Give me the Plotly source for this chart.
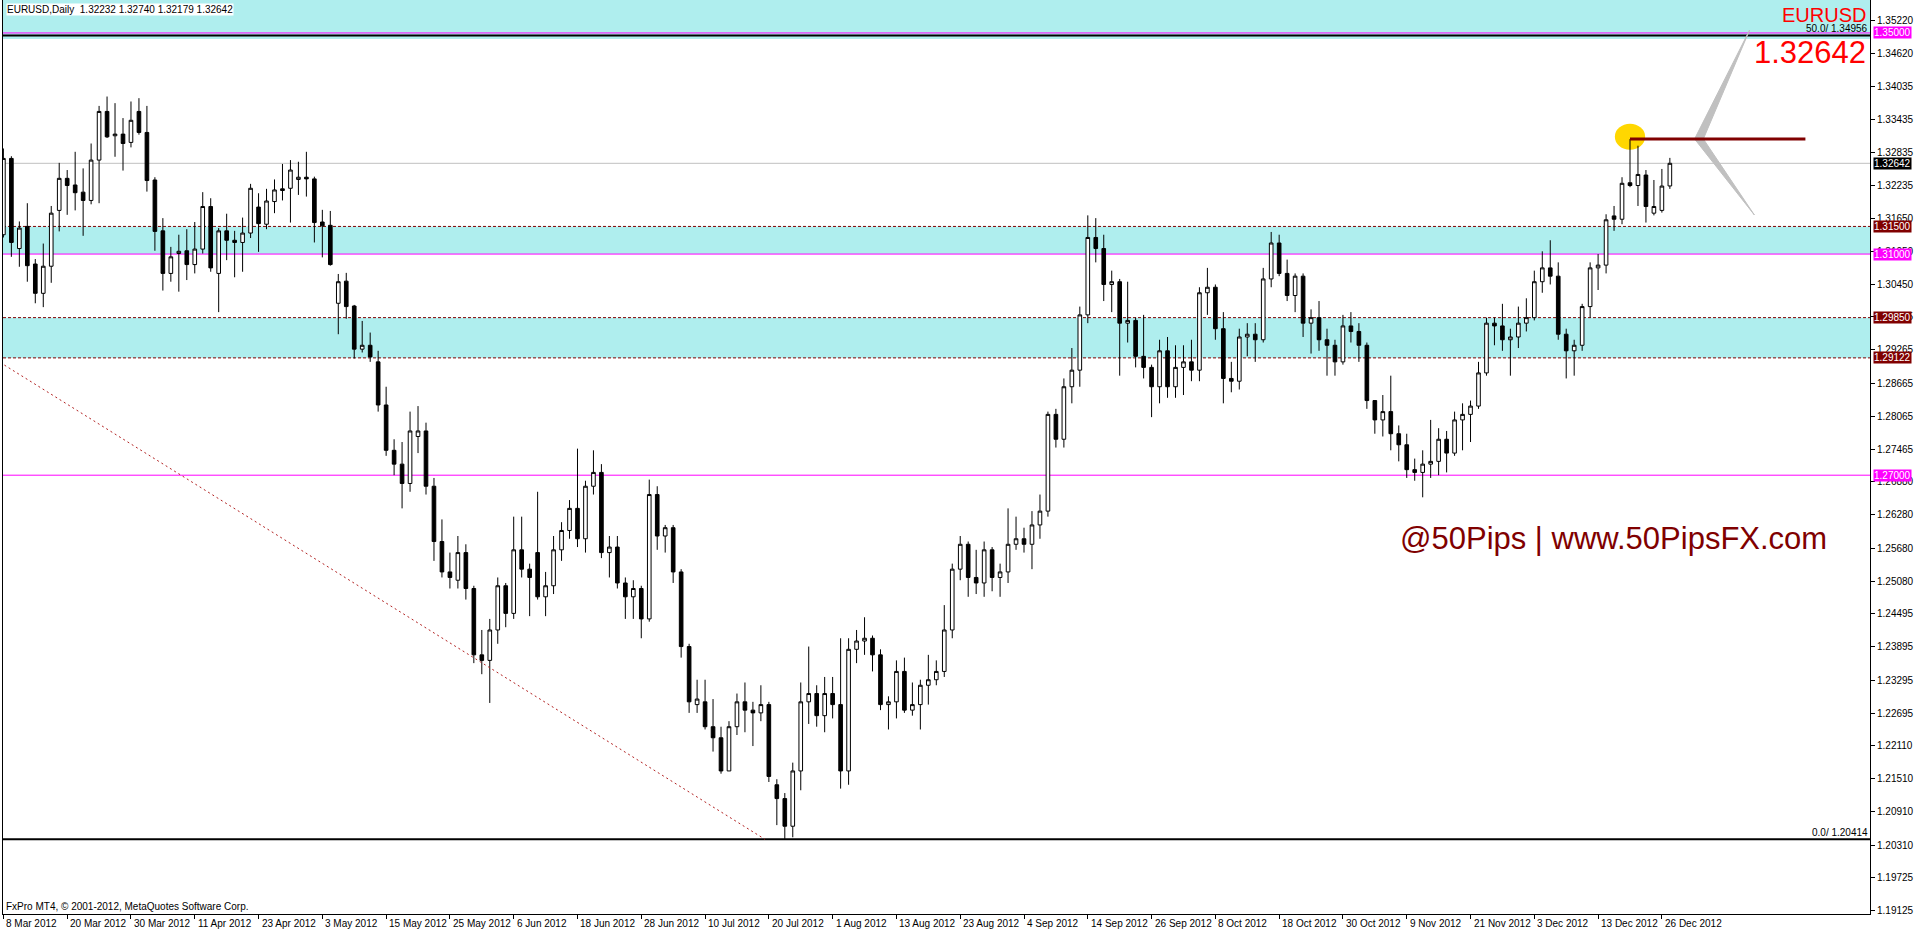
import plotly.graph_objects as go

# ---------------- data ----------------
# daily candles, 8 Mar 2012 .. 27 Dec 2012 (index = bar number)
opens = [
    1.3135, 1.3273, 1.3110, 1.3150, 1.3082, 1.3029, 1.3078, 1.3179, 1.3237, 1.3225,
    1.3212, 1.3197, 1.3270, 1.3358, 1.3314, 1.3317, 1.3302, 1.3358, 1.3320, 1.3234,
    1.3142, 1.3065, 1.3101, 1.3106, 1.3081, 1.3109, 1.3186, 1.3065, 1.3142, 1.3125,
    1.3121, 1.3138, 1.3185, 1.3154, 1.3195, 1.3218, 1.3219, 1.3235, 1.3239, 1.3236,
    1.3158, 1.3152, 1.3011, 1.3051, 1.3006, 1.2928, 1.2935, 1.2905, 1.2827, 1.2745,
    1.2720, 1.2685, 1.2770, 1.2780, 1.2680, 1.2580, 1.2525, 1.2510, 1.2560, 1.2495,
    1.2375, 1.2365, 1.2420, 1.2500, 1.2450, 1.2565, 1.2530, 1.2560, 1.2480, 1.2500,
    1.2565, 1.2600, 1.2640, 1.2585, 1.2680, 1.2705, 1.2560, 1.2570, 1.2505, 1.2480,
    1.2495, 1.2440, 1.2665, 1.2590, 1.2605, 1.2525, 1.2390, 1.2285, 1.2290, 1.2245,
    1.2225, 1.2165, 1.2245, 1.2290, 1.2275, 1.2270, 1.2285, 1.2140, 1.2115, 1.2065,
    1.2165, 1.2290, 1.2305, 1.2265, 1.2305, 1.2285, 1.2165, 1.2385, 1.2400, 1.2405,
    1.2375, 1.2285, 1.2290, 1.2345, 1.2275, 1.2285, 1.2320, 1.2330, 1.2345, 1.2420,
    1.2530, 1.2575, 1.2515, 1.2505, 1.2565, 1.2515, 1.2525, 1.2575, 1.2585, 1.2575,
    1.2610, 1.2635, 1.2810, 1.2765, 1.2860, 1.2890, 1.2990, 1.3130, 1.3110, 1.3045,
    1.3050, 1.2975, 1.2980, 1.2915, 1.2895, 1.2860, 1.2925, 1.2860, 1.2895, 1.2905,
    1.2890, 1.3030, 1.3040, 1.2965, 1.2875, 1.2870, 1.2950, 1.2955, 1.2945, 1.3055,
    1.3120, 1.3065, 1.3025, 1.3060, 1.2975, 1.2985, 1.2945, 1.2935, 1.2905, 1.2970,
    1.2960, 1.2935, 1.2835, 1.2800, 1.2815, 1.2775, 1.2755, 1.2710, 1.2705, 1.2720,
    1.2725, 1.2765, 1.2740, 1.2800, 1.2810, 1.2825, 1.2885, 1.2975, 1.2970, 1.2945,
    1.2950, 1.2975, 1.2985, 1.3050, 1.3075, 1.3060, 1.2955, 1.2925, 1.2935, 1.3005,
    1.3075, 1.3080, 1.3169, 1.3163, 1.3229, 1.3224, 1.3243, 1.3174, 1.3179, 1.32232,
]
highs = [
    1.3291, 1.3277, 1.3159, 1.3192, 1.3091, 1.3119, 1.3187, 1.3265, 1.3252, 1.3285,
    1.3255, 1.3300, 1.3368, 1.3385, 1.3373, 1.3346, 1.3376, 1.3382, 1.3368, 1.3239,
    1.3165, 1.3113, 1.3135, 1.3145, 1.3158, 1.3212, 1.3201, 1.3147, 1.3173, 1.3142,
    1.3166, 1.3227, 1.3210, 1.3218, 1.3235, 1.3263, 1.3270, 1.3267, 1.3285, 1.3240,
    1.3180, 1.3178, 1.3064, 1.3066, 1.3008, 1.2979, 1.2958, 1.2925, 1.2860, 1.2765,
    1.2760, 1.2815, 1.2825, 1.2795, 1.2695, 1.2620, 1.2560, 1.2590, 1.2575, 1.2500,
    1.2420, 1.2440, 1.2515, 1.2505, 1.2625, 1.2625, 1.2540, 1.2670, 1.2525, 1.2590,
    1.2615, 1.2655, 1.2748, 1.2690, 1.2745, 1.2720, 1.2590, 1.2590, 1.2515, 1.2510,
    1.2500, 1.2692, 1.2680, 1.2610, 1.2610, 1.2530, 1.2395, 1.2330, 1.2330, 1.2295,
    1.2245, 1.2255, 1.2305, 1.2325, 1.2290, 1.2320, 1.2290, 1.2150, 1.2125, 1.2180,
    1.2325, 1.2390, 1.2320, 1.2335, 1.2335, 1.2405, 1.2405, 1.2420, 1.2443, 1.2410,
    1.2385, 1.2300, 1.2365, 1.2370, 1.2325, 1.2330, 1.2375, 1.2365, 1.2465, 1.2540,
    1.2590, 1.2580, 1.2565, 1.2580, 1.2570, 1.2540, 1.2640, 1.2625, 1.2605, 1.2635,
    1.2665, 1.2815, 1.2820, 1.2875, 1.2930, 1.3005, 1.3170, 1.3165, 1.3135, 1.3070,
    1.3055, 1.3050, 1.2985, 1.2990, 1.2900, 1.2945, 1.2950, 1.2935, 1.2935, 1.2945,
    1.3040, 1.3075, 1.3045, 1.2995, 1.2905, 1.2965, 1.2975, 1.2975, 1.3075, 1.3140,
    1.3135, 1.3090, 1.3065, 1.3065, 1.3000, 1.3015, 1.2965, 1.2945, 1.2990, 1.2995,
    1.2975, 1.2940, 1.2835, 1.2845, 1.2880, 1.2790, 1.2775, 1.2730, 1.2745, 1.2800,
    1.2785, 1.2780, 1.2815, 1.2830, 1.2835, 1.2905, 1.2985, 1.2985, 1.3010, 1.2965,
    1.3005, 1.3020, 1.3070, 1.3105, 1.3125, 1.3085, 1.2965, 1.2945, 1.3010, 1.3085,
    1.3100, 1.3172, 1.3187, 1.3239, 1.3308, 1.3296, 1.3252, 1.3234, 1.3254, 1.32740,
]
lows = [
    1.3130, 1.3095, 1.3077, 1.3050, 1.3011, 1.3004, 1.3048, 1.3141, 1.3171, 1.3179,
    1.3133, 1.3190, 1.3192, 1.3310, 1.3276, 1.3251, 1.3293, 1.3316, 1.3213, 1.3106,
    1.3034, 1.3050, 1.3032, 1.3053, 1.3065, 1.3101, 1.3068, 1.2995, 1.3089, 1.3058,
    1.3068, 1.3129, 1.3104, 1.3145, 1.3174, 1.3197, 1.3157, 1.3207, 1.3204, 1.3121,
    1.3094, 1.3079, 1.2955, 1.2983, 1.2911, 1.2922, 1.2905, 1.2815, 1.2735, 1.2700,
    1.2640, 1.2670, 1.2740, 1.2665, 1.2545, 1.2515, 1.2495, 1.2495, 1.2475, 1.2360,
    1.2340, 1.2288, 1.2395, 1.2425, 1.2440, 1.2515, 1.2445, 1.2475, 1.2445, 1.2485,
    1.2545, 1.2585, 1.2570, 1.2560, 1.2665, 1.2550, 1.2515, 1.2495, 1.2440, 1.2440,
    1.2405, 1.2435, 1.2565, 1.2560, 1.2505, 1.2370, 1.2270, 1.2270, 1.2240, 1.2200,
    1.2160, 1.2165, 1.2230, 1.2235, 1.2210, 1.2255, 1.2145, 1.2067, 1.2042, 1.2045,
    1.2130, 1.2250, 1.2245, 1.2235, 1.2260, 1.2133, 1.2140, 1.2360, 1.2375, 1.2345,
    1.2275, 1.2240, 1.2260, 1.2270, 1.2265, 1.2240, 1.2285, 1.2320, 1.2335, 1.2405,
    1.2510, 1.2480, 1.2485, 1.2480, 1.2490, 1.2480, 1.2505, 1.2565, 1.2560, 1.2530,
    1.2585, 1.2625, 1.2750, 1.2750, 1.2830, 1.2860, 1.2975, 1.3085, 1.3015, 1.2995,
    1.2880, 1.2940, 1.2895, 1.2875, 1.2805, 1.2830, 1.2840, 1.2840, 1.2845, 1.2870,
    1.2870, 1.2990, 1.2945, 1.2830, 1.2850, 1.2855, 1.2915, 1.2905, 1.2940, 1.3040,
    1.3060, 1.3015, 1.2995, 1.2950, 1.2920, 1.2925, 1.2880, 1.2880, 1.2900, 1.2940,
    1.2905, 1.2820, 1.2775, 1.2770, 1.2745, 1.2725, 1.2695, 1.2690, 1.2660, 1.2695,
    1.2700, 1.2705, 1.2735, 1.2745, 1.2760, 1.2820, 1.2880, 1.2935, 1.2925, 1.2880,
    1.2930, 1.2960, 1.2980, 1.3030, 1.3045, 1.2945, 1.2875, 1.2880, 1.2925, 1.2985,
    1.3035, 1.3065, 1.3142, 1.3154, 1.3221, 1.3187, 1.3157, 1.3170, 1.3175, 1.32179,
]
closes = [
    1.3273, 1.3121, 1.3147, 1.3079, 1.3029, 1.3078, 1.3174, 1.3237, 1.3224, 1.3211,
    1.3197, 1.3270, 1.3358, 1.3312, 1.3317, 1.3300, 1.3342, 1.3320, 1.3233, 1.3141,
    1.3065, 1.3095, 1.3105, 1.3081, 1.3109, 1.3186, 1.3075, 1.3142, 1.3125, 1.3121,
    1.3138, 1.3219, 1.3155, 1.3196, 1.3216, 1.3215, 1.3252, 1.3239, 1.3236, 1.3157,
    1.3151, 1.3081, 1.3050, 1.3005, 1.2928, 1.2935, 1.2914, 1.2827, 1.2745, 1.2720,
    1.2685, 1.2780, 1.2780, 1.2680, 1.2580, 1.2525, 1.2515, 1.2560, 1.2495, 1.2375,
    1.2365, 1.2420, 1.2500, 1.2450, 1.2565, 1.2530, 1.2515, 1.2480, 1.2500, 1.2565,
    1.2600, 1.2640, 1.2585, 1.2680, 1.2705, 1.2560, 1.2570, 1.2505, 1.2480, 1.2495,
    1.2440, 1.2665, 1.2590, 1.2605, 1.2525, 1.2390, 1.2290, 1.2295, 1.2245, 1.2225,
    1.2165, 1.2245, 1.2290, 1.2275, 1.2270, 1.2285, 1.2155, 1.2115, 1.2065, 1.2165,
    1.2290, 1.2305, 1.2265, 1.2305, 1.2285, 1.2165, 1.2385, 1.2400, 1.2405, 1.2375,
    1.2285, 1.2290, 1.2345, 1.2275, 1.2285, 1.2320, 1.2330, 1.2345, 1.2420, 1.2530,
    1.2575, 1.2515, 1.2505, 1.2565, 1.2515, 1.2525, 1.2575, 1.2585, 1.2575, 1.2610,
    1.2635, 1.2810, 1.2765, 1.2860, 1.2890, 1.2990, 1.3130, 1.3110, 1.3045, 1.3050,
    1.2975, 1.2980, 1.2915, 1.2895, 1.2860, 1.2925, 1.2860, 1.2895, 1.2905, 1.2890,
    1.3030, 1.3040, 1.2965, 1.2875, 1.2870, 1.2950, 1.2955, 1.2945, 1.3055, 1.3120,
    1.3065, 1.3025, 1.3060, 1.2975, 1.2985, 1.2945, 1.2935, 1.2905, 1.2970, 1.2960,
    1.2935, 1.2835, 1.2800, 1.2815, 1.2775, 1.2755, 1.2710, 1.2705, 1.2720, 1.2725,
    1.2765, 1.2740, 1.2800, 1.2810, 1.2825, 1.2885, 1.2975, 1.2970, 1.2945, 1.2950,
    1.2975, 1.2985, 1.3050, 1.3075, 1.3060, 1.2955, 1.2925, 1.2935, 1.3005, 1.3075,
    1.3080, 1.3162, 1.3163, 1.3228, 1.3224, 1.3244, 1.3186, 1.3186, 1.3223, 1.32642,
]

date_labels = [
    "8 Mar 2012", "20 Mar 2012", "30 Mar 2012", "11 Apr 2012", "23 Apr 2012",
    "3 May 2012", "15 May 2012", "25 May 2012", "6 Jun 2012", "18 Jun 2012",
    "28 Jun 2012", "10 Jul 2012", "20 Jul 2012", "1 Aug 2012", "13 Aug 2012",
    "23 Aug 2012", "4 Sep 2012", "14 Sep 2012", "26 Sep 2012", "8 Oct 2012",
    "18 Oct 2012", "30 Oct 2012", "9 Nov 2012", "21 Nov 2012", "3 Dec 2012",
    "13 Dec 2012", "26 Dec 2012",
]
label_step = 8

price_ticks = [
    1.35220, 1.34620, 1.34035, 1.33435, 1.32835, 1.32235, 1.31650, 1.31050,
    1.30450, 1.29865, 1.29265, 1.28665, 1.28065, 1.27465, 1.26880, 1.26280,
    1.25680, 1.25080, 1.24495, 1.23895, 1.23295, 1.22695, 1.22110, 1.21510,
    1.20910, 1.20310, 1.19725, 1.19125,
]

zones = [(1.34891, 1.36000), (1.31000, 1.31500), (1.29122, 1.29850)]
magenta_levels = [1.35000, 1.31000, 1.27000]
dashed_levels = [1.31500, 1.29850, 1.29122]
fib_levels = [(1.34956, "50.0/ 1.34956"), (1.20414, "0.0/ 1.20414")]
bid = 1.32642
high_mark = (204, 1.33082, 226)          # bar, price, end bar of the maroon line
fib_trend = ([-0.4, 95.5], [1.29039, 1.20414])
arrow_vertex = (212.1, 1.33082)
arrow_tips = [(219.0, 1.35053), (219.6, 1.31707)]

tag_levels = [
    (1.35000, "#FF00FF"), (1.32642, "#000000"), (1.31500, "#800000"),
    (1.31000, "#FF00FF"), (1.29850, "#800000"), (1.29122, "#800000"),
    (1.27000, "#FF00FF"),
]

ZONE = "#AFEEEE"
FONT = "Liberation Sans, Arial, sans-serif"

idx = list(range(len(opens)))

fig = go.Figure()
fig.add_trace(go.Candlestick(
    x=idx, open=opens, high=highs, low=lows, close=closes,
    increasing=dict(line=dict(color="black", width=1), fillcolor="white"),
    decreasing=dict(line=dict(color="black", width=1), fillcolor="black"),
    whiskerwidth=0, hoverinfo="skip", showlegend=False,
))

# fibo diagonal
fig.add_trace(go.Scatter(
    x=fib_trend[0], y=fib_trend[1], mode="lines",
    line=dict(color="#B22222", width=1, dash="2px,3px"),
    hoverinfo="skip", showlegend=False,
))

# grey "<" marker
vx, vy = arrow_vertex
for tx, ty in arrow_tips:
    fig.add_trace(go.Scatter(
        x=[vx, vx + 1.1, tx, vx], y=[vy, vy, ty, vy], mode="lines",
        fill="toself", fillcolor="#C0C0C0", line=dict(color="#C0C0C0", width=1),
        hoverinfo="skip", showlegend=False,
    ))

shapes = []
for lo, hi in zones:
    shapes.append(dict(type="rect", xref="paper", x0=0, x1=1, yref="y", y0=lo, y1=hi,
                       fillcolor=ZONE, line_width=0, layer="below"))
for lv in magenta_levels:
    shapes.append(dict(type="line", xref="paper", x0=0, x1=1, yref="y", y0=lv, y1=lv,
                       line=dict(color="#FF00FF", width=1), layer="below"))
for lv in dashed_levels:
    shapes.append(dict(type="line", xref="paper", x0=0, x1=1, yref="y", y0=lv, y1=lv,
                       line=dict(color="#800000", width=1, dash="3px,2px"), layer="below"))
for lv, _ in fib_levels:
    shapes.append(dict(type="line", xref="paper", x0=0, x1=1, yref="y", y0=lv, y1=lv,
                       line=dict(color="black", width=2), layer="below"))
shapes.append(dict(type="line", xref="paper", x0=0, x1=1, yref="y", y0=bid, y1=bid,
                   line=dict(color="#C0C0C0", width=1), layer="below"))
hb, hp, he = high_mark
shapes.append(dict(type="circle", xref="x", yref="y", x0=hb - 1.9, x1=hb + 1.9,
                   y0=hp + 0.0004 - 0.00235, y1=hp + 0.0004 + 0.00235,
                   fillcolor="#FFD700", line_width=0, layer="below"))
shapes.append(dict(type="line", xref="x", yref="y", x0=hb, x1=he, y0=hp, y1=hp,
                   line=dict(color="#800000", width=3)))

ann = []
ann.append(dict(text="EURUSD,Daily&nbsp; 1.32232 1.32740 1.32179 1.32642",
                xref="paper", yref="paper", x=0, y=1, xanchor="left", yanchor="top",
                xshift=3, yshift=-3, showarrow=False, bgcolor="white", borderpad=0,
                font=dict(size=10, color="black")))
ann.append(dict(text="EURUSD", xref="paper", yref="paper", x=1, y=(914 - 15) / 914,
                xanchor="right", yanchor="middle", xshift=-2, showarrow=False,
                font=dict(size=20, color="#FF0000", family="Liberation Sans, Arial")))
ann.append(dict(text=f"{bid:.5f}", xref="paper", yref="paper", x=1, y=(914 - 52) / 914,
                xanchor="right", yanchor="middle", xshift=-2, showarrow=False,
                font=dict(size=31, color="#FF0000", family="Liberation Sans, Arial")))
ann.append(dict(text="@50Pips | www.50PipsFX.com", xref="paper", yref="paper",
                x=(1835 - 3) / 1873, y=(914 - 538) / 914, xanchor="right", yanchor="middle",
                showarrow=False, font=dict(size=31, color="#800000", family="Liberation Sans, Arial")))
ann.append(dict(text="FxPro MT4, © 2001-2012, MetaQuotes Software Corp.",
                xref="paper", yref="paper", x=0, y=0, xanchor="left", yanchor="bottom",
                xshift=1, yshift=0, showarrow=False, font=dict(size=10, color="black")))
for lv, txt in fib_levels:
    ann.append(dict(text=txt, xref="paper", yref="y", x=1, y=lv, xanchor="right",
                    yanchor="bottom", xshift=-1, showarrow=False, borderpad=0,
                    font=dict(size=10, color="black")))
for lv, col in tag_levels:
    ann.append(dict(text=f"{lv:.5f}", xref="paper", yref="y", x=1, y=lv, xanchor="left",
                    yanchor="middle", xshift=3, showarrow=False, bgcolor=col, borderpad=0,
                    font=dict(size=10, color="white")))
for k, lab in enumerate(date_labels):
    ann.append(dict(text=lab, xref="x", yref="paper", x=k * label_step, y=0,
                    xanchor="left", yanchor="top", xshift=1, yshift=-2, showarrow=False,
                    font=dict(size=10, color="black")))

fig.update_layout(
    width=1914, height=931,
    margin=dict(l=3, r=38, t=0, b=17),
    paper_bgcolor="white", plot_bgcolor="white",
    font=dict(family=FONT, size=10, color="black"),
    showlegend=False, hovermode=False, boxgap=0.35,
    shapes=shapes, annotations=ann,
    xaxis=dict(
        range=[-0.05, 234.1], rangeslider=dict(visible=False), showgrid=False,
        zeroline=False, showline=True, linecolor="black", linewidth=1,
        ticks="outside", ticklen=4, tickcolor="black",
        tickvals=list(range(0, len(opens), label_step)), showticklabels=False,
    ),
    yaxis=dict(
        side="right", range=[1.19062, 1.35596], showgrid=False, zeroline=False,
        showline=True, mirror=True, linecolor="black", linewidth=1,
        ticks="outside", ticklen=4, tickcolor="black",
        tickvals=price_ticks, ticktext=[f"{v:.5f}" for v in price_ticks],
        tickfont=dict(size=10, color="black"),
    ),
)

fig.write_html("out.html", config={"displayModeBar": False},
               post_script="document.body.style.margin='0';document.body.style.overflow='hidden';")
